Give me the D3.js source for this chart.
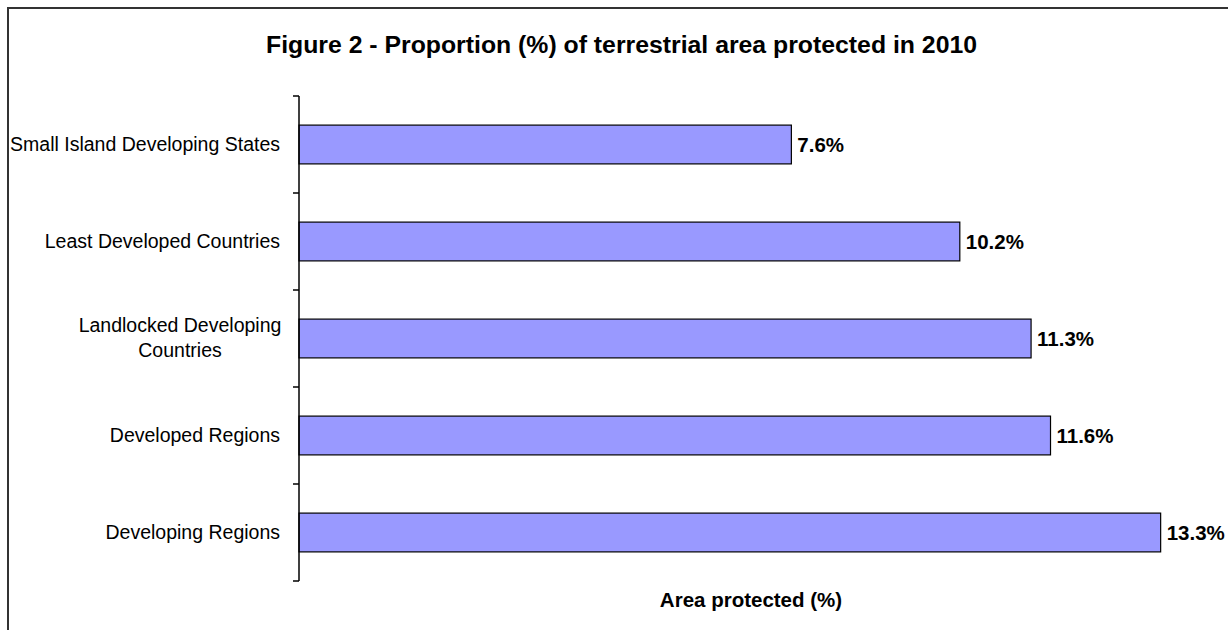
<!DOCTYPE html>
<html>
<head>
<meta charset="utf-8">
<script src="https://cdn.jsdelivr.net/npm/d3@7"></script>
<style>
  html, body { margin: 0; padding: 0; background: #fff; }
  svg { display: block; font-family: "Liberation Sans", Arial, sans-serif; }
</style>
</head>
<body>
<svg id="chart" width="1228" height="630"></svg>
<script>
// Terrestrial area protected in 2010, by region grouping
const categories = [
  "Small Island Developing States",
  "Least Developed Countries",
  "Landlocked Developing Countries",
  "Developed Regions",
  "Developing Regions"
];
const values = [7.6, 10.2, 11.3, 11.6, 13.3];
const valueLabels = ["7.6%", "10.2%", "11.3%", "11.6%", "13.3%"];
const titleText = "Figure 2 - Proportion (%) of terrestrial area protected in 2010";
const xAxisTitle = "Area protected (%)";

const svg = d3.select("#chart");

// outer frame
svg.append("rect")
  .attr("x", 8).attr("y", 8)
  .attr("width", 1240).attr("height", 640)
  .attr("fill", "none")
  .attr("stroke", "#333")
  .attr("stroke-width", 2);

const plot = { left: 299, top: 96, bottom: 581 };

const x = d3.scaleLinear().domain([0, 14]).range([plot.left, plot.left + 907]);
const y = d3.scaleBand().domain(categories).range([plot.top, plot.bottom]).paddingInner(0.6).paddingOuter(0.3);
const yTicks = d3.scaleBand().domain(categories).range([plot.top, plot.bottom]);

// title
svg.append("text")
  .attr("x", 266).attr("y", 53)
  .attr("font-weight", "bold")
  .attr("font-size", 24.8)
  .attr("fill", "#000")
  .text(titleText);

// bars
svg.append("g").selectAll("rect")
  .data(categories)
  .join("rect")
  .attr("x", x(0))
  .attr("y", d => y(d))
  .attr("width", (d, i) => x(values[i]) - x(0))
  .attr("height", y.bandwidth())
  .attr("fill", "#9999ff")
  .attr("stroke", "#000")
  .attr("stroke-width", 1.2);

// value labels
svg.append("g").selectAll("text")
  .data(categories)
  .join("text")
  .attr("x", (d, i) => x(values[i]) + 6)
  .attr("y", d => y(d) + y.bandwidth() / 2 + 7)
  .attr("font-weight", "bold")
  .attr("font-size", 20.5)
  .attr("fill", "#000")
  .text((d, i) => valueLabels[i]);

// vertical axis with tick marks at band boundaries
const axisG = svg.append("g");
axisG.append("line")
  .attr("x1", plot.left).attr("x2", plot.left)
  .attr("y1", plot.top).attr("y2", plot.bottom)
  .attr("stroke", "#000").attr("stroke-width", 1.5);
const bounds = categories.map(c => yTicks(c)).concat([plot.bottom]);
axisG.selectAll("line.tick")
  .data(bounds)
  .join("line")
  .attr("class", "tick")
  .attr("x1", plot.left - 6).attr("x2", plot.left)
  .attr("y1", d => d).attr("y2", d => d)
  .attr("stroke", "#000").attr("stroke-width", 1.5);

// category labels (wrapped where needed)
const wrap = {
  "Landlocked Developing Countries": ["Landlocked Developing", "Countries"]
};
const catG = svg.append("g");
categories.forEach(c => {
  const lines = wrap[c] || [c];
  const cy = yTicks(c) + yTicks.bandwidth() / 2;
  const lh = 25;
  const startY = cy - (lines.length - 1) * lh / 2 + 6;
  const t = catG.append("text")
    .attr("text-anchor", lines.length > 1 ? "middle" : "end")
    .attr("font-size", 19.5)
    .attr("fill", "#000");
  lines.forEach((ln, i) => {
    t.append("tspan")
      .attr("x", lines.length > 1 ? 180 : 280)
      .attr("y", startY + i * lh)
      .text(ln);
  });
});

// x axis title
svg.append("text")
  .attr("x", 751).attr("y", 607)
  .attr("text-anchor", "middle")
  .attr("font-weight", "bold")
  .attr("font-size", 20.5)
  .attr("fill", "#000")
  .text(xAxisTitle);
</script>
</body>
</html>
